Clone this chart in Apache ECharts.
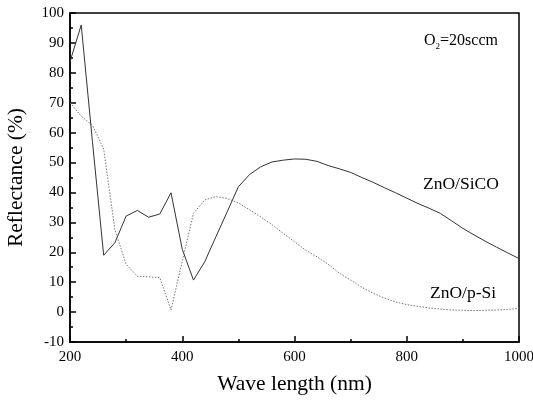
<!DOCTYPE html>
<html>
<head>
<meta charset="utf-8">
<script src="https://cdn.jsdelivr.net/npm/echarts@6/dist/echarts.min.js"></script>
<style>
  html, body { margin: 0; padding: 0; background: #fff; }
  #chart { width: 533px; height: 401px; }
</style>
</head>
<body>
<div id="chart"></div>
<script>
// wavelengths (nm), one point every 20 nm
var waveLength = [200,220,240,260,280,300,320,340,360,380,400,420,440,460,480,500,
    520,540,560,580,600,620,640,660,680,700,720,740,760,780,800,820,840,860,880,900,
    920,940,960,980,1000];

// ZnO/SiCO (solid)
var sicoValues = [83.7,96,57,19,23.2,32.1,34,31.7,32.8,39.9,21,10.7,16.8,25.2,33.5,41.9,
    46,48.6,50.2,50.8,51.2,51.1,50.4,49,47.9,46.7,45,43.4,41.6,39.9,38.1,36.3,34.7,33,
    30.5,28,25.8,23.7,21.7,19.8,17.9];

// ZnO/p-Si (dotted)
var psiValues = [70,65.5,62.5,54.5,27.5,16,12,11.8,11.5,0.7,17,33,37.5,38.6,38,36.5,
    34.2,31.8,29.2,26.3,23.5,20.7,18.5,16,13,10.7,8.3,6.3,4.7,3.4,2.5,1.9,1.4,1.0,0.7,
    0.6,0.5,0.6,0.7,0.9,1.2];

function pairs(xs, ys) {
    return xs.map(function (x, i) { return [x, ys[i]]; });
}

var font = '"Liberation Serif", "Times New Roman", serif';
var chart = echarts.init(document.getElementById('chart'));

var option = {
    animation: false,
    backgroundColor: '#fff',
    grid: {
        left: 70, right: 14, top: 13, bottom: 59,
        outerBoundsMode: 'none',
        show: true, borderColor: '#000', borderWidth: 1.5
    },
    xAxis: {
        type: 'value', min: 200, max: 1000, interval: 200,
        name: 'Wave length (nm)', nameLocation: 'middle', nameGap: 31,
        nameTextStyle: { fontFamily: font, fontSize: 21.5, color: '#000' },
        axisLine: { onZero: false, lineStyle: { color: '#000', width: 1.5 } },
        axisTick: { inside: true, length: 6, lineStyle: { color: '#000', width: 1.5 } },
        minorTick: { show: true, splitNumber: 2, length: 3, lineStyle: { color: '#000', width: 1.5 } },
        axisLabel: { fontFamily: font, fontSize: 15, color: '#000', margin: 8,
            formatter: function (v) { return String(v); } },
        splitLine: { show: false }
    },
    yAxis: {
        type: 'value', min: -10, max: 100, interval: 10,
        name: 'Reflectance (%)', nameLocation: 'middle', nameGap: 43,
        nameTextStyle: { fontFamily: font, fontSize: 21.5, color: '#000' },
        axisLine: { onZero: false, lineStyle: { color: '#000', width: 1.5 } },
        axisTick: { inside: true, length: 6, lineStyle: { color: '#000', width: 1.5 } },
        minorTick: { show: true, splitNumber: 2, length: 3, lineStyle: { color: '#000', width: 1.5 } },
        axisLabel: { fontFamily: font, fontSize: 15, color: '#000', margin: 6 },
        splitLine: { show: false }
    },
    series: [
        {
            name: 'ZnO/SiCO', type: 'line', data: pairs(waveLength, sicoValues),
            symbol: 'none', lineStyle: { color: '#333', width: 1 }
        },
        {
            name: 'ZnO/p-Si', type: 'line', data: pairs(waveLength, psiValues),
            symbol: 'none', lineStyle: { color: '#777', width: 1, type: [1.5, 1.5] }
        }
    ],
    graphic: [
        {
            type: 'text', left: 424, top: 33,
            style: {
                text: 'O{sub|2}=20sccm',
                fontFamily: font, fontSize: 16, fill: '#000',
                rich: { sub: { fontFamily: font, fontSize: 9, padding: [11, 0, 0, 0] } }
            }
        },
        {
            type: 'text', left: 423, top: 175,
            style: { text: 'ZnO/SiCO', fontFamily: font, fontSize: 17.5, fill: '#000' }
        },
        {
            type: 'text', left: 430, top: 284,
            style: { text: 'ZnO/p-Si', fontFamily: font, fontSize: 17.5, fill: '#000' }
        }
    ]
};
chart.setOption(option);
</script>
</body>
</html>
